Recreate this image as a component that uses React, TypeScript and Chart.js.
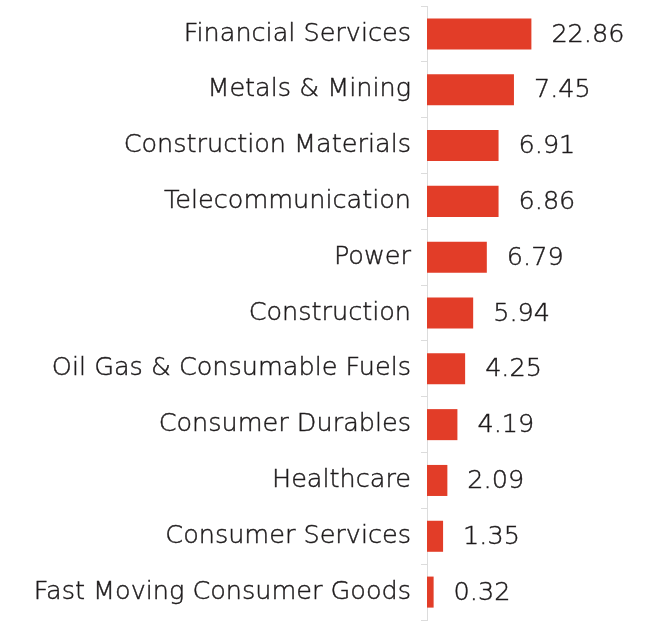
import React, { useEffect, useRef } from "react";
import { Chart, registerables } from "chart.js";

Chart.register(...registerables);

const categories = [
  "Financial Services",
  "Metals & Mining",
  "Construction Materials",
  "Telecommunication",
  "Power",
  "Construction",
  "Oil Gas & Consumable Fuels",
  "Consumer Durables",
  "Healthcare",
  "Consumer Services",
  "Fast Moving Consumer Goods",
];

// Weights shown as text next to each bar
const weights = [22.86, 7.45, 6.91, 6.86, 6.79, 5.94, 4.25, 4.19, 2.09, 1.35, 0.32];

// Bar lengths as drawn in the picture (same units, Financial Services = 22.86)
const barLengths = [22.86, 19.04, 15.67, 15.67, 13.1, 10.11, 8.35, 6.66, 4.46, 3.52, 1.45];

const FONT_FAMILY = "'DejaVu Sans', sans-serif";
const FONT_WEIGHT = 200;
const FONT_SIZE = 25.5;
const TEXT_COLOR = "#1e1b1c";
const STROKE_WIDTH = 0.45;
const BAR_COLOR = "#e23d28";
const AXIS_COLOR = "#dcdcdc";

const valueLabels = {
  id: "valueLabels",
  afterDatasetsDraw(chart: any) {
    const ctx = chart.ctx;
    const meta = chart.getDatasetMeta(0);
    ctx.save();
    ctx.font = `${FONT_WEIGHT} ${FONT_SIZE}px ${FONT_FAMILY}`;
    ctx.fillStyle = TEXT_COLOR;
    ctx.strokeStyle = TEXT_COLOR;
    ctx.lineWidth = STROKE_WIDTH;
    ctx.textAlign = "left";
    ctx.textBaseline = "middle";
    meta.data.forEach((bar: any, i: number) => {
      const t = weights[i].toFixed(2);
      ctx.fillText(t, bar.x + 20, bar.y + 1);
      ctx.strokeText(t, bar.x + 20, bar.y + 1);
    });
    ctx.restore();
  },
};

export default function App() {
  const ref = useRef<HTMLCanvasElement | null>(null);

  useEffect(() => {
    if (!ref.current) return;
    const chart = new Chart(ref.current, {
      type: "bar",
      data: {
        labels: categories,
        datasets: [
          {
            data: barLengths,
            backgroundColor: BAR_COLOR,
            borderWidth: 0,
            categoryPercentage: 1,
            barPercentage: 0.556,
          },
        ],
      },
      options: {
        indexAxis: "y",
        animation: false,
        responsive: false,
        layout: { padding: { top: 6, bottom: 13, left: 0, right: 90 } },
        plugins: {
          legend: { display: false },
          tooltip: { enabled: false },
        },
        scales: {
          x: {
            display: false,
            min: 0,
            max: 30,
          },
          y: {
            offset: true,
            afterFit: (scale: any) => {
              scale.width = 427;
              scale.paddingTop = 0;
              scale.paddingBottom = 0;
            },
            grid: {
              offset: true,
              drawOnChartArea: false,
              drawTicks: true,
              tickLength: 6,
              color: AXIS_COLOR,
            },
            border: { color: AXIS_COLOR, width: 1 },
            ticks: {
              color: TEXT_COLOR,
              textStrokeColor: TEXT_COLOR,
              textStrokeWidth: STROKE_WIDTH,
              padding: 10,
              autoSkip: false,
              font: { family: FONT_FAMILY, size: FONT_SIZE, weight: FONT_WEIGHT as any },
            },
          },
        },
      },
      plugins: [valueLabels],
    });
    return () => chart.destroy();
  }, []);

  return (
    <canvas
      ref={ref}
      width={654}
      height={633}
      style={{ position: "absolute", left: 0, top: 0, display: "block" }}
    />
  );
}
